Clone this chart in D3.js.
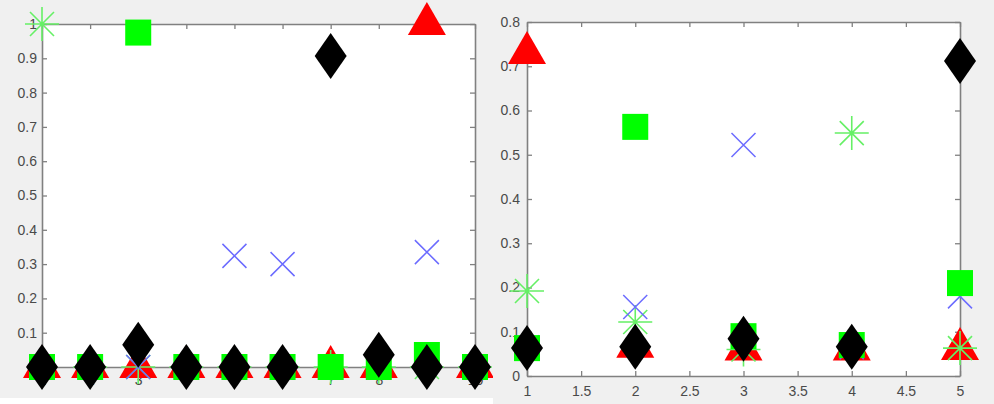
<!DOCTYPE html>
<html>
<head>
<meta charset="utf-8">
<script src="https://cdn.jsdelivr.net/npm/d3@7"></script>
<style>
html,body{margin:0;padding:0;background:#fff;}
svg{display:block;}
</style>
</head>
<body>
<svg id="chart" width="994" height="404"></svg>
<script>
// ---------- data ----------
const leftX = [1, 2, 3, 4, 5, 6, 7, 8, 9, 10];
const leftAsterisk = [1.0, 0, 0, 0, 0, 0, 0, 0, 0, 0];
const leftSquare   = [0, 0, 0.975, 0, 0, 0, 0, 0, 0.035, 0];
const leftCross    = [0, 0, 0, 0, 0.324, 0.30, 0, 0, 0.335, 0];
const leftTriangle = [0, 0, 0, 0, 0, 0, 0, 0, 1.0, 0];
const leftDiamond  = [0, 0, 0.065, 0, 0, 0, 0.907, 0.036, 0, 0];
const leftXTicks = [1, 2, 3, 4, 5, 6, 7, 8, 9, 10];
const leftYTicks = [0, 0.1, 0.2, 0.3, 0.4, 0.5, 0.6, 0.7, 0.8, 0.9, 1];

const rightX = [1, 2, 3, 4, 5];
const rightAsterisk = [0.192, 0.122, 0.06, 0.549, 0.063];
const rightSquare   = [0.063, 0.563, 0.09, 0.07, 0.21];
const rightCross    = [0.065, 0.156, 0.522, 0.065, 0.18];
const rightTriangle = [0.73, 0.066, 0.06, 0.06, 0.061];
const rightDiamond  = [0.063, 0.066, 0.084, 0.066, 0.712];
const rightXTicks = [1, 1.5, 2, 2.5, 3, 3.5, 4, 4.5, 5];
const rightYTicks = [0, 0.1, 0.2, 0.3, 0.4, 0.5, 0.6, 0.7, 0.8];

// ---------- styles ----------
const COL = {
  asterisk: "#66f066",
  square: "#00ff00",
  cross: "#6b6bff",
  triangle: "#ff0000",
  diamond: "#000000",
  axis: "#808080",
  label: "#4a4a4a",
  figBg: "#f0f0f0"
};

const svg = d3.select("#chart");

function panel(cfg) {
  const g = svg.append("g");
  g.append("rect").attr("x", cfg.fig[0]).attr("y", cfg.fig[1])
    .attr("width", cfg.fig[2]).attr("height", cfg.fig[3]).attr("fill", COL.figBg);
  const x = d3.scaleLinear().domain(cfg.xDomain).range(cfg.xRange);
  const y = d3.scaleLinear().domain(cfg.yDomain).range(cfg.yRange);
  const [x0, x1] = cfg.xRange, [y0, y1] = cfg.yRange; // y0 bottom, y1 top
  g.append("rect").attr("x", x0).attr("y", y1).attr("width", x1 - x0).attr("height", y0 - y1)
    .attr("fill", "#fff");

  const tl = 5;
  const bottom = g.append("g").attr("transform", `translate(0,${y0})`)
    .call(d3.axisBottom(x).tickValues(cfg.xTicks).tickSizeInner(-tl).tickSizeOuter(0)
      .tickPadding(cfg.xPad).tickFormat(d3.format("~g")));
  const top = g.append("g").attr("transform", `translate(0,${y1})`)
    .call(d3.axisTop(x).tickValues(cfg.xTicks).tickSizeInner(-tl).tickSizeOuter(0).tickFormat(""));
  const left = g.append("g").attr("transform", `translate(${x0},0)`)
    .call(d3.axisLeft(y).tickValues(cfg.yTicks).tickSizeInner(-tl).tickSizeOuter(0)
      .tickPadding(cfg.yPad).tickFormat(d3.format("~g")));
  const right = g.append("g").attr("transform", `translate(${x1},0)`)
    .call(d3.axisRight(y).tickValues(cfg.yTicks).tickSizeInner(-tl).tickSizeOuter(0).tickFormat(""));
  [bottom, top, left, right].forEach(a => {
    a.select(".domain").attr("stroke", COL.axis).attr("stroke-width", 1.6);
    a.selectAll(".tick line").attr("stroke", COL.axis).attr("stroke-width", 1.3);
    a.selectAll("text").attr("fill", COL.label)
      .style("font-family", "'Liberation Sans', Arial, sans-serif").style("font-size", "14px");
  });

  const m = g.append("g");
  const xs = cfg.xs;
  // triangles
  m.selectAll(".tri").data(xs).join("path")
    .attr("d", "M0,-22L19,11L-19,11Z")
    .attr("transform", (d, i) => `translate(${x(d)},${y(cfg.tri[i])})`)
    .attr("fill", COL.triangle);
  // asterisks
  m.selectAll(".ast").data(xs).join("path")
    .attr("d", "M-17,0L17,0M0,-17L0,17M-12,-12L12,12M-12,12L12,-12")
    .attr("transform", (d, i) => `translate(${x(d)},${y(cfg.ast[i])})`)
    .attr("stroke", COL.asterisk).attr("stroke-width", 1.6).attr("fill", "none");
  // crosses
  m.selectAll(".cr").data(xs).join("path")
    .attr("d", "M-12,-12L12,12M-12,12L12,-12")
    .attr("transform", (d, i) => `translate(${x(d)},${y(cfg.cr[i])})`)
    .attr("stroke", COL.cross).attr("stroke-width", 1.5).attr("fill", "none");
  // squares
  m.selectAll(".sq").data(xs).join("rect")
    .attr("x", d => x(d) - 13).attr("y", (d, i) => y(cfg.sq[i]) - 13)
    .attr("width", 26).attr("height", 26).attr("fill", COL.square);
  // diamonds
  m.selectAll(".dia").data(xs).join("path")
    .attr("d", "M0,-23L16,0L0,23L-16,0Z")
    .attr("transform", (d, i) => `translate(${x(d)},${y(cfg.dia[i])})`)
    .attr("fill", COL.diamond);
}

panel({
  fig: [0, 0, 493, 398],
  xDomain: [1, 10], xRange: [42, 475],
  yDomain: [0, 1], yRange: [367, 24],
  xTicks: leftXTicks, yTicks: leftYTicks, xPad: 8, yPad: 5,
  xs: leftX, ast: leftAsterisk, sq: leftSquare, cr: leftCross, tri: leftTriangle, dia: leftDiamond
});

panel({
  fig: [493, 0, 501, 404],
  xDomain: [1, 5], xRange: [527, 960],
  yDomain: [0, 0.8], yRange: [376, 22],
  xTicks: rightXTicks, yTicks: rightYTicks, xPad: 10, yPad: 7,
  xs: rightX, ast: rightAsterisk, sq: rightSquare, cr: rightCross, tri: rightTriangle, dia: rightDiamond
});
</script>
</body>
</html>
